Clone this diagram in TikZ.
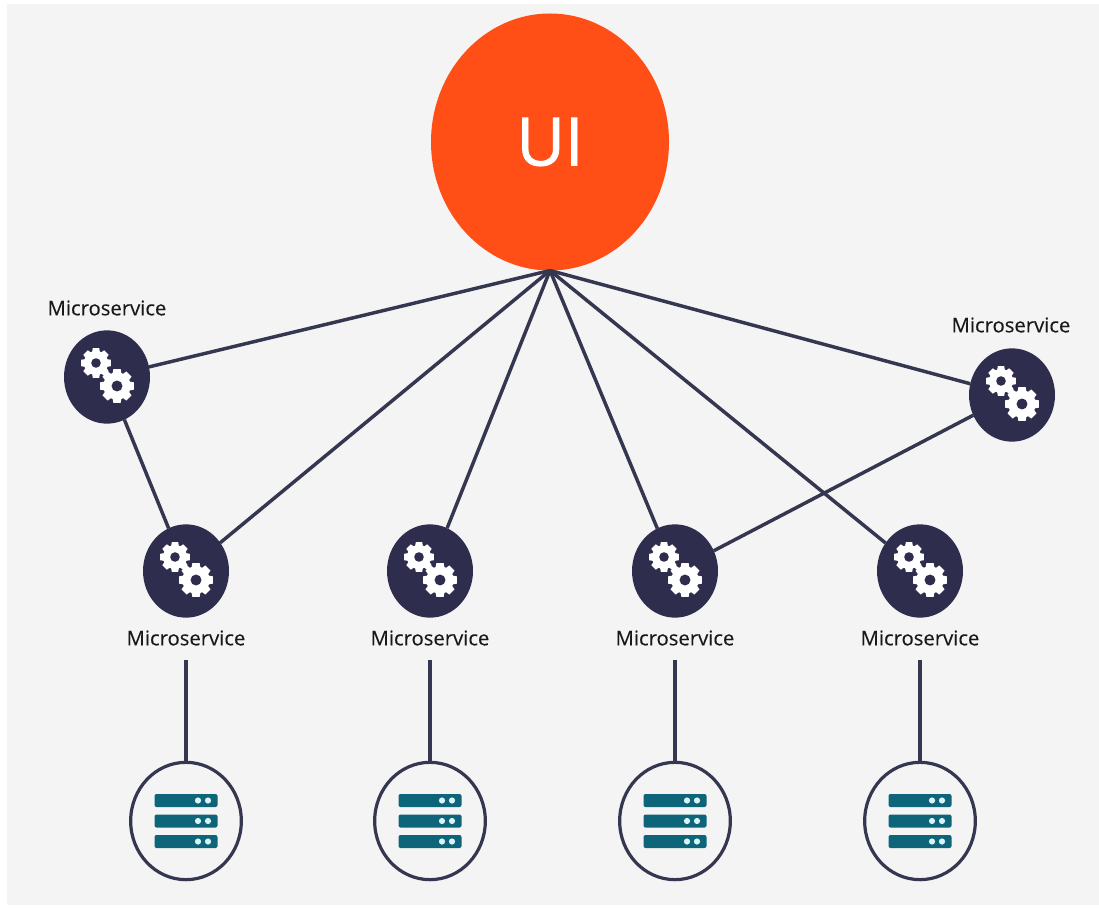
\documentclass[tikz,border=0pt]{standalone}
\usepackage{fontspec}
\setmainfont{Open Sans}
\newfontfamily\uifont[FakeBold=1.2]{Open Sans}
\newfontfamily\msfont[FakeBold=0.25]{Open Sans}
\usetikzlibrary{shapes.geometric}
\definecolor{bgc}{HTML}{F4F4F4}
\definecolor{uic}{HTML}{FF4F17}
\definecolor{darkc}{HTML}{2E2D4D}
\definecolor{linec}{HTML}{35364F}
\definecolor{serverc}{HTML}{0E6478}
\definecolor{dotc}{HTML}{D8F4F8}
\tikzset{
  uinode/.style={ellipse,fill=uic,minimum width=178.5pt,minimum height=192.75pt,inner sep=0,outer sep=0,text=white,font=\uifont\fontsize{50}{50}\selectfont},
  msnode/.style={ellipse,fill=darkc,minimum width=64.5pt,minimum height=70pt,inner sep=0,outer sep=0},
  dbnode/.style={ellipse,draw=linec,line width=2.4pt,fill=bgc,minimum width=83pt,minimum height=88pt,inner sep=0,outer sep=0},
  mslabel/.style={font=\msfont\fontsize{15.2}{15.2}\selectfont,text=black!90,inner sep=0,outer sep=0},
  link/.style={draw=linec,line width=2.6pt},
  gear/.pic={
    \fill[white] (0,0) circle (12);
    \foreach \a in {0,45,...,315}{
      \fill[white,rotate=\a] (-4.2,-9) -- (-3.2,-14.8) -- (3.2,-14.8) -- (4.2,-9) -- cycle;
    }
    \fill[darkc] (0,0) circle (4.8);
  },
  serverbars/.pic={
    \foreach \yy in {-20.5,0,20.5}{
      \fill[serverc,rounded corners=1.5pt] (-31.5,\yy-6.5) rectangle (31.5,\yy+6.5);
      \fill[dotc] (12,\yy) circle (3.1);
      \fill[dotc] (22,\yy) circle (3.1);
    }
  }
}
\begin{document}
\begin{tikzpicture}[x=0.75pt,y=-0.75pt]
\useasboundingbox (0,0) rectangle (1099,909);
\fill[white] (0,0) rectangle (1099,909);
\fill[bgc] (7,4) rectangle (1099,905);
% nodes
\node[uinode] (ui) at (550,142) {UI};
\node[msnode] (m1) at (107,377) {};
\node[msnode] (m2) at (186,571) {};
\node[msnode] (m3) at (430,571) {};
\node[msnode] (m4) at (675,571) {};
\node[msnode] (m5) at (920,571) {};
\node[msnode] (m6) at (1012,395) {};
\node[dbnode] (d2) at (186,821) {};
\node[dbnode] (d3) at (430,821) {};
\node[dbnode] (d4) at (675,821) {};
\node[dbnode] (d5) at (920,821) {};
\node[mslabel] (l1) at (107,308) {Microservice};
\node[mslabel] (l2) at (186,638) {Microservice};
\node[mslabel] (l3) at (430,638) {Microservice};
\node[mslabel] (l4) at (675,638) {Microservice};
\node[mslabel] (l5) at (920,638) {Microservice};
\node[mslabel] (l6) at (1011,325) {Microservice};
% connectors
\foreach \t in {m1,m2,m3,m4,m5,m6}{
  \draw[link] (ui.south) -- (\t);
}
\draw[link] (m1) -- (m2);
\draw[link] (m6) -- (m4);
\foreach \a/\b in {l2/d2,l3/d3,l4/d4,l5/d5}{
  \draw[link] ([yshift=-10.5pt]\a.south) -- (\b.north);
}
% gears
\foreach \t in {m1,m2,m3,m4,m5,m6}{
  \path (\t) ++(-11,-14) pic {gear};
  \path (\t) ++(10,9) pic[scale=1.14] {gear};
}
% servers
\foreach \t in {d2,d3,d4,d5}{
  \path (\t) pic {serverbars};
}
\end{tikzpicture}
\end{document}
